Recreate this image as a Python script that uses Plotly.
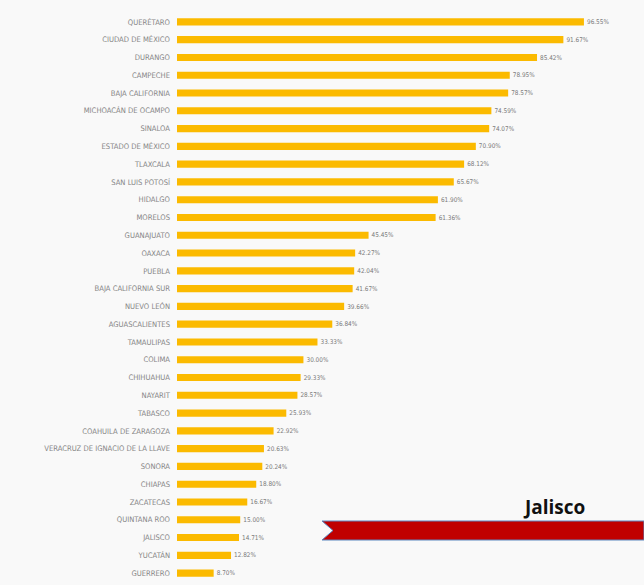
import plotly.graph_objects as go

states = ["QUERÉTARO", "CIUDAD DE MÉXICO", "DURANGO", "CAMPECHE", "BAJA CALIFORNIA",
          "MICHOACÁN DE OCAMPO", "SINALOA", "ESTADO DE MÉXICO", "TLAXCALA", "SAN LUIS POTOSÍ",
          "HIDALGO", "MORELOS", "GUANAJUATO", "OAXACA", "PUEBLA", "BAJA CALIFORNIA SUR",
          "NUEVO LEÓN", "AGUASCALIENTES", "TAMAULIPAS", "COLIMA", "CHIHUAHUA", "NAYARIT",
          "TABASCO", "COAHUILA DE ZARAGOZA", "VERACRUZ DE IGNACIO DE LA LLAVE", "SONORA",
          "CHIAPAS", "ZACATECAS", "QUINTANA ROO", "JALISCO", "YUCATÁN", "GUERRERO"]
values = [96.55, 91.67, 85.42, 78.95, 78.57, 74.59, 74.07, 70.90, 68.12, 65.67,
          61.90, 61.36, 45.45, 42.27, 42.04, 41.67, 39.66, 36.84, 33.33, 30.00,
          29.33, 28.57, 25.93, 22.92, 20.63, 20.24, 18.80, 16.67, 15.00, 14.71,
          12.82, 8.70]
value_labels = [f"{v:.2f}%" for v in values]
highlight = "Jalisco"

font_narrow = "DejaVu Sans Condensed, Liberation Sans Narrow, sans-serif"

fig = go.Figure(go.Bar(
    x=values, y=states, orientation="h",
    marker=dict(color="#FBBA00", line=dict(width=0)),
    text=value_labels, textposition="outside", cliponaxis=False,
    textfont=dict(family=font_narrow, size=9, color="#7a7a7a"),
))

fig.update_layout(
    width=644, height=585,
    margin=dict(l=177, r=0, t=13, b=3),
    paper_bgcolor="#f9f9f9", plot_bgcolor="#f9f9f9",
    bargap=0.6, showlegend=False,
    xaxis=dict(range=[0, 110.8], visible=False, showgrid=False, zeroline=False),
    yaxis=dict(autorange="reversed", showgrid=False, zeroline=False, showline=False,
               ticks="", ticklabelstandoff=6,
               tickfont=dict(family=font_narrow, size=7.6, color="#858585")),
    shapes=[dict(
        type="path", xref="paper", yref="paper",
        path="M 0.3105 0.1072 L 1.0 0.1072 L 1.0 0.0738 L 0.3105 0.0738 L 0.334 0.0905 Z",
        fillcolor="#C00000", line=dict(color="#5b87c0", width=1),
    )],
    annotations=[dict(
        text=f"<b>{highlight}</b>", xref="paper", yref="paper", x=0.807, y=0.132,
        xanchor="center", yanchor="middle",
        showarrow=False, font=dict(family="Open Sans, Liberation Sans, sans-serif", size=19, color="#111111"),
    )],
)

fig.write_html("out.html", config={"displayModeBar": False},
               post_script="document.body.style.margin='0';document.body.style.overflow='hidden';")
